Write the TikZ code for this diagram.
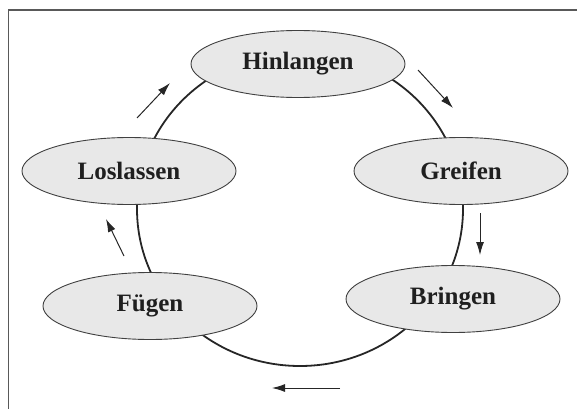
\documentclass[tikz,border=0pt]{standalone}
\usepackage{fontspec}
\setmainfont{Liberation Serif}
\usetikzlibrary{shapes.geometric,arrows.meta}
\begin{document}
\begin{tikzpicture}[x=1pt,y=-1pt,
  phase/.style={ellipse,draw=black!75,line width=0.9pt,fill=black!9,
    minimum width=214pt,minimum height=67pt,inner sep=0pt,
    font=\fontsize{25}{29}\selectfont\bfseries,text=black!88},
  flow/.style={line width=1pt,draw=black!85,
    -{Latex[length=13pt,width=8pt]}}]
\useasboundingbox (0,0) rectangle (577,409);
\draw[line width=1.4pt,draw=black!65] (577,10) -- (8.5,10) -- (8.5,409);
\coordinate (c) at (300,209);
\draw[line width=1.8pt,draw=black!85] (c) ellipse [x radius=163pt,y radius=157pt];
\node[phase] (hin) at (298,64) {Hinlangen};
\node[phase] (gre) at (461,171) {Greifen};
\node[phase] (los) at (129,171) {Loslassen};
\node[phase] (fue) at (150,306) {Fügen};
\node[phase] (bri) at (453,299) {Bringen};
\coordinate (a1s) at (137,118); \coordinate (a1e) at (170,83);
\coordinate (a2s) at (418,70);  \coordinate (a2e) at (453,108);
\coordinate (a3s) at (480,213); \coordinate (a3e) at (480,255);
\coordinate (a4s) at (124,256); \coordinate (a4e) at (106,219);
\coordinate (a5s) at (340,388); \coordinate (a5e) at (272,388);
\draw[flow] (a1s) -- (a1e);
\draw[flow] (a2s) -- (a2e);
\draw[flow] (a3s) -- (a3e);
\draw[flow] (a4s) -- (a4e);
\draw[flow] (a5s) -- (a5e);
\end{tikzpicture}
\end{document}
